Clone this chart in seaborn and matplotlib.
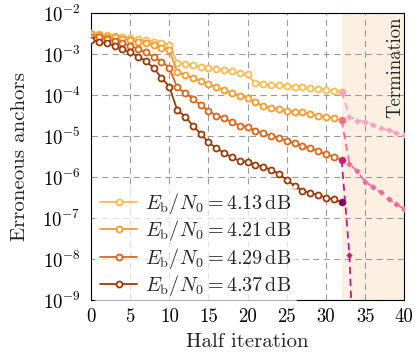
import numpy as np
import pandas as pd
import matplotlib
matplotlib.use("Agg")
import matplotlib.pyplot as plt
import seaborn as sns

# ---------------- data ----------------
half_iter = list(range(0, 33))
term_iter = list(range(32, 41))

err_413 = [3.24e-3, 3.09e-3, 2.95e-3, 2.82e-3, 2.69e-3, 2.51e-3, 2.34e-3, 2.24e-3, 2.04e-3, 1.91e-3,
           1.70e-3, 6.17e-4, 5.75e-4, 5.37e-4, 5.01e-4, 4.68e-4, 4.37e-4, 4.07e-4, 3.80e-4, 3.47e-4,
           3.24e-4, 1.95e-4, 1.91e-4, 1.82e-4, 1.74e-4, 1.66e-4, 1.58e-4, 1.55e-4, 1.48e-4, 1.41e-4,
           1.35e-4, 1.29e-4, 1.23e-4]
err_421 = [3.09e-3, 2.88e-3, 2.69e-3, 2.57e-3, 2.40e-3, 2.24e-3, 2.04e-3, 1.86e-3, 1.70e-3, 1.45e-3,
           1.26e-3, 3.63e-4, 3.16e-4, 2.63e-4, 2.24e-4, 1.86e-4, 1.55e-4, 1.35e-4, 1.12e-4, 9.77e-5,
           8.51e-5, 6.76e-5, 5.37e-5, 4.90e-5, 4.57e-5, 4.17e-5, 3.98e-5, 3.80e-5, 3.47e-5, 3.16e-5,
           3.02e-5, 2.75e-5, 2.45e-5]
err_429 = [2.69e-3, 2.57e-3, 2.34e-3, 2.09e-3, 1.86e-3, 1.62e-3, 1.35e-3, 1.12e-3, 8.71e-4, 6.61e-4,
           4.68e-4, 1.55e-4, 1.15e-4, 8.13e-5, 5.75e-5, 4.17e-5, 3.16e-5, 2.75e-5, 2.19e-5, 1.82e-5,
           1.70e-5, 1.35e-5, 1.17e-5, 1.02e-5, 8.91e-6, 7.76e-6, 6.76e-6, 5.89e-6, 5.13e-6, 4.37e-6,
           3.63e-6, 3.16e-6, 2.63e-6]
err_437 = [2.24e-3, 2.04e-3, 1.86e-3, 1.62e-3, 1.35e-3, 1.12e-3, 8.71e-4, 6.92e-4, 4.57e-4, 2.69e-4,
           1.62e-4, 4.37e-5, 3.02e-5, 1.82e-5, 1.15e-5, 7.08e-6, 5.13e-6, 3.89e-6, 3.02e-6, 2.51e-6,
           2.34e-6, 2.00e-6, 1.78e-6, 1.51e-6, 1.20e-6, 8.51e-7, 6.17e-7, 4.68e-7, 4.07e-7, 3.72e-7,
           3.16e-7, 2.88e-7, 2.45e-7]

term_413 = [1.23e-4, 3.02e-5, 2.40e-5, 2.24e-5, 1.91e-5, 1.58e-5, 1.38e-5, 1.23e-5, 1.10e-5]
term_421 = [2.45e-5, 2.09e-6, 1.38e-6, 7.76e-7, 5.75e-7, 4.27e-7, 2.88e-7, 2.19e-7, 1.66e-7]
term_429_x = [32, 33, 34]
term_429 = [2.63e-6, 1.26e-8, 1e-13]

snr_labels = ["4.13", "4.21", "4.29", "4.37"]
x_ticks = [0, 5, 10, 15, 20, 25, 30, 35, 40]

# ---------------- style ----------------
sns.set_theme(style="white")
plt.rcParams["font.family"] = "serif"
plt.rcParams["font.serif"] = ["cmr10"]
plt.rcParams["mathtext.fontset"] = "cm"
plt.rcParams["axes.formatter.use_mathtext"] = True
plt.rcParams["axes.unicode_minus"] = False

main_colors = ["#fdbb4f", "#fb9a2c", "#de6416", "#9c3a08"]
term_colors = ["#f9a3c3", "#f768a1", "#c51b8a", "#7a0177"]

fig = plt.figure(figsize=(4.15, 3.53), dpi=100)
ax = fig.add_axes([0.2193, 0.150, 0.9742 - 0.2193, 0.9623 - 0.150])

ax.axvspan(32, 40, color="#fdefe2", zorder=0.2, lw=0)

main_series = [err_413, err_421, err_429, err_437]
for lab, vals, col in zip(snr_labels, main_series, main_colors):
    df = pd.DataFrame({"x": half_iter, "y": vals})
    sns.lineplot(data=df, x="x", y="y", ax=ax, color=col, lw=1.3,
                 marker="o", markersize=4.3, markerfacecolor="white",
                 markeredgecolor=col, markeredgewidth=1.3,
                 label=rf"$E_\mathrm{{b}}/N_0 = {lab}\,\mathrm{{dB}}$", zorder=3)

dash = (0, (4.0, 2.6))
term_sets = [(term_iter, term_413, term_colors[0]),
             (term_iter, term_421, term_colors[1]),
             (term_429_x, term_429, term_colors[2])]
for xs, vals, col in term_sets:
    df = pd.DataFrame({"x": xs, "y": vals})
    sns.lineplot(data=df, x="x", y="y", ax=ax, color=col, lw=1.3,
                 linestyle=dash, marker="D", markersize=3.3,
                 markeredgewidth=0, markevery=list(range(1, len(xs))),
                 legend=False, zorder=4)

# end points at half iteration 32
end_vals = [err_413[-1], err_421[-1], err_429[-1], err_437[-1]]
for v, col in zip(end_vals, term_colors):
    ax.plot([32], [v], marker="o", markersize=4.6, color=col,
            markeredgewidth=0, zorder=5)

ax.set_yscale("log")
ax.set_xlim(0, 40)
ax.set_ylim(1e-9, 1e-2)
ax.set_xticks(x_ticks)
ax.set_xticklabels([str(t) for t in x_ticks])
ax.set_yticks([10.0 ** e for e in range(-9, -1)])
ax.yaxis.set_minor_locator(matplotlib.ticker.NullLocator())

ax.grid(True, which="major", color="#9a9a9a", lw=0.8, linestyle=(0, (5.5, 4)))
ax.set_axisbelow(True)
for s in ax.spines.values():
    s.set_color("black")
    s.set_linewidth(0.8)
ax.tick_params(axis="x", which="major", labelsize=13.5, length=0, pad=6, colors="black")
ax.tick_params(axis="y", which="major", labelsize=13.5, length=0, pad=7.5, colors="black")

ax.set_xlabel("Half iteration", fontsize=15, labelpad=5)
ax.set_ylabel("Erroneous anchors", fontsize=15, labelpad=10)

ax.text(38.85, 10 ** -2.08, "Termination", rotation=90, ha="center", va="top",
        fontsize=13.5, zorder=6)

leg = ax.legend(loc="lower left", bbox_to_anchor=(0.0, -0.025), fontsize=14.5,
                frameon=True, framealpha=0.7,
                handlelength=1.85, handletextpad=0.4, labelspacing=0.12,
                borderaxespad=0.2, borderpad=0.25)
leg.get_frame().set_edgecolor("none")
leg.get_frame().set_facecolor("white")
leg.set_zorder(5.5)

fig.savefig("out.png", dpi=100)
